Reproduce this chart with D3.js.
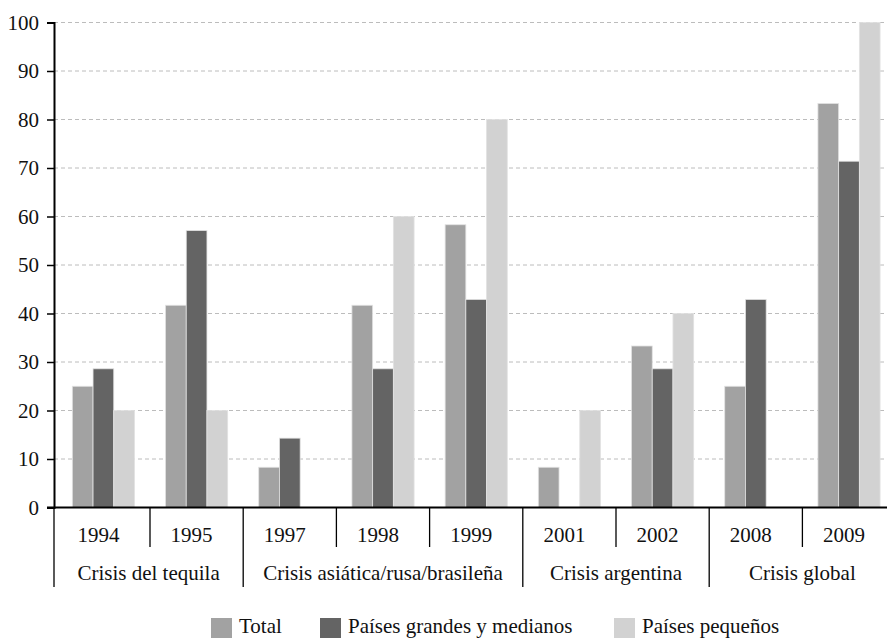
<!DOCTYPE html>
<html><head><meta charset="utf-8">
<script src="https://cdn.jsdelivr.net/npm/d3@7"></script>
</head><body style="margin:0">
<script>
const years = ["1994","1995","1997","1998","1999","2001","2002","2008","2009"];
const groups = [
  {name:"Crisis del tequila", years:["1994","1995"]},
  {name:"Crisis asiática/rusa/brasileña", years:["1997","1998","1999"]},
  {name:"Crisis argentina", years:["2001","2002"]},
  {name:"Crisis global", years:["2008","2009"]}
];
const seriesNames = ["Total","Países grandes y medianos","Países pequeños"];
const total   = [25, 41.7, 8.3, 41.7, 58.3, 8.3, 33.3, 25, 83.3];
const grandes = [28.6, 57.1, 14.3, 28.6, 42.9, 0, 28.6, 42.9, 71.4];
const pequenos= [20, 20, 0, 60, 80, 20, 40, 0, 100];
const yTicks = [0,10,20,30,40,50,60,70,80,90,100];
const colors = ["#a2a2a2","#646464","#d2d2d2"];

const FONT = "Liberation Serif";
const FS = 21;
const W=887,H=638;
const svg=d3.select("body").append("svg").attr("width",W).attr("height",H)
  .attr("font-family",FONT).style("display","block");
const axisX=54, yTop=22.5, yBot=507.5;
const x=d3.scaleBand().domain(years).range([56.8,895.6]);
const xs=d3.scaleBand().domain(seriesNames).range([0,x.bandwidth()]).paddingInner(0).paddingOuter(0.75);
const y=d3.scaleLinear().domain([0,100]).range([yBot,yTop]);

// gridlines
svg.append("g").selectAll("line").data(yTicks.filter(d=>d>0)).join("line")
  .attr("x1",axisX).attr("x2",W).attr("y1",d=>y(d)).attr("y2",d=>y(d))
  .attr("stroke","#bcbcbc").attr("stroke-width",1).attr("stroke-dasharray","4,3");

// bars
const data=[total,grandes,pequenos];
const gb=svg.append("g");
years.forEach((yr,i)=>{
  seriesNames.forEach((s,j)=>{
    const v=data[j][i];
    if(v<=0) return;
    gb.append("rect").attr("x",x(yr)+xs(s)).attr("width",xs.bandwidth())
      .attr("y",y(v)).attr("height",y(0)-y(v)).attr("fill",colors[j])
      .attr("stroke","#e2e2e2").attr("stroke-width",0.8);
  });
});

// y axis
const ga=svg.append("g").attr("transform",`translate(${axisX},0)`)
  .call(d3.axisLeft(y).tickValues(yTicks).tickSize(7).tickPadding(8));
ga.attr("font-family",FONT).attr("font-size",FS);
ga.select(".domain").attr("stroke","#000").attr("stroke-width",2);
ga.selectAll(".tick line").attr("stroke","#000").attr("stroke-width",1.5);
ga.selectAll(".tick text").attr("fill","#111").attr("font-family",FONT).attr("font-size",FS);

// x axis line
svg.append("line").attr("x1",axisX-7).attr("x2",W).attr("y1",yBot).attr("y2",yBot).attr("stroke","#000").attr("stroke-width",2);

// year labels and dividers
years.forEach(d=>{
  svg.append("text").attr("x",x(d)+x.bandwidth()/2-5).attr("y",542).attr("text-anchor","middle")
    .attr("font-family",FONT).attr("font-size",FS).attr("fill","#111").text(d);
});
const groupStarts=new Set(groups.map(g=>g.years[0]));
svg.append("g").selectAll("line").data(years.slice(1)).join("line")
  .attr("x1",d=>x(d)).attr("x2",d=>x(d)).attr("y1",yBot)
  .attr("y2",d=>groupStarts.has(d)?587:547).attr("stroke","#000").attr("stroke-width",1.3);
svg.append("line").attr("x1",axisX).attr("x2",axisX).attr("y1",yBot).attr("y2",587).attr("stroke","#000").attr("stroke-width",1.3);

// group labels
groups.forEach((g,i)=>{
  const a=i===0?axisX:x(g.years[0]), b=x(g.years[g.years.length-1])+x.bandwidth();
  svg.append("text").attr("x",(a+b)/2).attr("y",580).attr("text-anchor","middle")
    .attr("font-family",FONT).attr("font-size",FS).attr("fill","#111").text(g.name);
});

// legend
const legX=[211,320,614];
seriesNames.forEach((s,j)=>{
  svg.append("rect").attr("x",legX[j]).attr("y",618).attr("width",21).attr("height",20).attr("fill",colors[j]);
  svg.append("text").attr("x",legX[j]+28).attr("y",633)
    .attr("font-family",FONT).attr("font-size",FS).attr("fill","#111").text(s);
});
</script>
</body></html>
